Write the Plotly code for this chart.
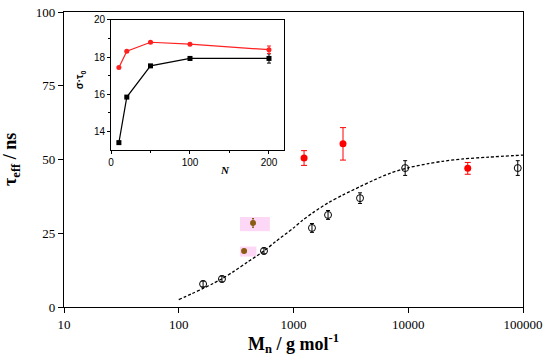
import plotly.graph_objects as go

# ---- main data ----
open_x = [163, 238, 553, 1449, 2000, 3800, 9400, 90000]
open_y = [7.8, 9.5, 19.0, 26.8, 31.2, 36.9, 47.1, 47.1]
open_err = [1.0, 1.0, 1.0, 1.5, 1.5, 1.8, 2.5, 2.5]

red_x = [1236, 2700, 33000]
red_y = [50.5, 55.3, 47.0]
red_err = [2.5, 5.5, 2.0]

brown_x = [371, 444]
brown_y = [19.0, 28.5]
brown_err = [0.6, 1.5]

fit_x = [100, 130, 163, 200, 238, 300, 400, 553, 700, 1000, 1200, 1480, 2000, 2700, 3800,
         5000, 7000, 10000, 15000, 20000, 30000, 50000, 100000]
fit_y = [2.5, 4.5, 6.3, 8.0, 9.6, 12.0, 15.3, 19.0, 22.2, 26.8, 29.4, 32.0, 35.3, 38.0, 40.8,
         43.0, 45.4, 47.2, 48.6, 49.4, 50.2, 50.8, 51.5]

x_ticks = [10, 100, 1000, 10000, 100000]
x_ticktext = ["10", "100", "1000", "10000", "100000"]
y_ticks = [0, 25, 50, 75, 100]

# ---- inset data ----
N = [10, 20, 50, 100, 200]
black_inset = [13.4, 15.85, 17.53, 17.93, 17.93]
black_inset_err = [0.05, 0.05, 0.05, 0.1, 0.25]
red_inset = [17.44, 18.32, 18.8, 18.7, 18.4]
red_inset_err = [0.05, 0.05, 0.05, 0.05, 0.2]

serif = "Liberation Serif, Times New Roman, serif"
sans = "Liberation Sans, Arial, sans-serif"

fig = go.Figure()

# pink highlight boxes behind brown points (relative extents, decoration only)
box_left = [0.92, 0.77]
box_right = [1.28, 1.40]
box_dy = [-0.2, -0.4]
box_half_h = [1.7, 2.4]
for bx, by, l, r, dy, h in zip(brown_x, brown_y, box_left, box_right, box_dy, box_half_h):
    fig.add_shape(type="rect", xref="x", yref="y",
                  x0=bx * l, x1=bx * r, y0=by + dy - h, y1=by + dy + h,
                  fillcolor="rgb(252,215,246)", line_width=0, layer="below")

fig.add_trace(go.Scatter(x=fit_x, y=fit_y, mode="lines",
                         line=dict(color="black", width=1.3, dash="3px,2px", shape="spline", smoothing=0.8),
                         xaxis="x", yaxis="y", showlegend=False, hoverinfo="skip"))
fig.add_trace(go.Scatter(x=open_x, y=open_y, mode="markers",
                         marker=dict(symbol="circle-open", size=7, color="black", line=dict(width=1)),
                         error_y=dict(type="data", array=open_err, color="black", thickness=1, width=2),
                         xaxis="x", yaxis="y", showlegend=False))
fig.add_trace(go.Scatter(x=red_x, y=red_y, mode="markers",
                         marker=dict(symbol="circle", size=7, color="#ff0000"),
                         error_y=dict(type="data", array=red_err, color="#ff0000", thickness=1, width=3),
                         xaxis="x", yaxis="y", showlegend=False))
fig.add_trace(go.Scatter(x=brown_x, y=brown_y, mode="markers",
                         marker=dict(symbol="circle", size=6, color="#8a5a10"),
                         error_y=dict(type="data", array=brown_err, color="#8a5a10", thickness=1, width=1),
                         xaxis="x", yaxis="y", showlegend=False))

# inset background
fig.add_shape(type="rect", xref="paper", yref="paper", x0=0.1024, x1=0.4793, y0=0.532, y1=0.973,
              fillcolor="white", line_width=0, layer="below")

fig.add_trace(go.Scatter(x=N, y=black_inset, mode="lines+markers",
                         line=dict(color="black", width=1.2),
                         marker=dict(symbol="square", size=5, color="black"),
                         error_y=dict(type="data", array=black_inset_err, color="black", thickness=1, width=2),
                         xaxis="x2", yaxis="y2", showlegend=False))
fig.add_trace(go.Scatter(x=N, y=red_inset, mode="lines+markers",
                         line=dict(color="#ff2020", width=1.2),
                         marker=dict(symbol="circle", size=5, color="#ff2020"),
                         error_y=dict(type="data", array=red_inset_err, color="#ff2020", thickness=1, width=2),
                         xaxis="x2", yaxis="y2", showlegend=False))

fig.update_layout(
    width=550, height=361,
    margin=dict(l=64, r=27, t=12, b=54, autoexpand=False),
    paper_bgcolor="white", plot_bgcolor="white",
    xaxis=dict(type="log", range=[1, 5], tickvals=x_ticks, ticktext=x_ticktext,
               showgrid=False, zeroline=False, showline=True, linecolor="black", linewidth=1.2,
               mirror=True, ticks="outside", ticklen=5, tickcolor="black", automargin=False,
               tickfont=dict(family=serif, size=13, color="black")),
    yaxis=dict(range=[0, 100], tickvals=y_ticks,
               showgrid=False, zeroline=False, showline=True, linecolor="black", linewidth=1.2,
               mirror=True, ticks="outside", ticklen=5, tickcolor="black", automargin=False,
               tickfont=dict(family=serif, size=13, color="black")),
    xaxis2=dict(domain=[0.1024, 0.4793], anchor="y2", range=[0, 219],
                tickvals=[0, 100, 200], showgrid=False, zeroline=False,
                showline=True, linecolor="black", linewidth=1, mirror=True,
                ticks="outside", ticklen=3, tickcolor="black", automargin=False,
                minor=dict(tickvals=[50, 150], ticks="outside", ticklen=2, tickcolor="black"),
                tickfont=dict(family=sans, size=10, color="black")),
    yaxis2=dict(domain=[0.532, 0.973], anchor="x2", range=[13, 20],
                tickvals=[14, 16, 18, 20], showgrid=False, zeroline=False,
                showline=True, linecolor="black", linewidth=1, mirror=True,
                ticks="outside", ticklen=3, tickcolor="black", automargin=False,
                minor=dict(tickvals=[15, 17, 19], ticks="outside", ticklen=2, tickcolor="black"),
                tickfont=dict(family=sans, size=10, color="black")),
    annotations=[
        dict(text="<b>M<sub>n</sub> / g mol<sup>-1</sup></b>", xref="paper", yref="paper",
             x=0.5, y=-0.075, xanchor="center", yanchor="top", showarrow=False,
             font=dict(family=serif, size=18, color="black")),
        dict(text="<b>τ<sub>eff</sub> / ns</b>", xref="paper", yref="paper",
             x=-0.085, y=0.5, xanchor="right", yanchor="middle", textangle=-90, showarrow=False,
             font=dict(family=serif, size=18, color="black")),
        dict(text="<b><i>N</i></b>", xref="paper", yref="paper",
             x=0.351, y=0.49, xanchor="center", yanchor="top", showarrow=False,
             font=dict(family=serif, size=11, color="black")),
        dict(text="<b>σ·τ<sub>0</sub></b>", xref="paper", yref="paper",
             x=0.053, y=0.77, xanchor="right", yanchor="middle", textangle=-90, showarrow=False,
             font=dict(family=sans, size=10, color="black")),
    ],
)

fig.write_html("out.html", config={"displayModeBar": False},
               post_script="document.body.style.margin='0';document.body.style.padding='0';")
